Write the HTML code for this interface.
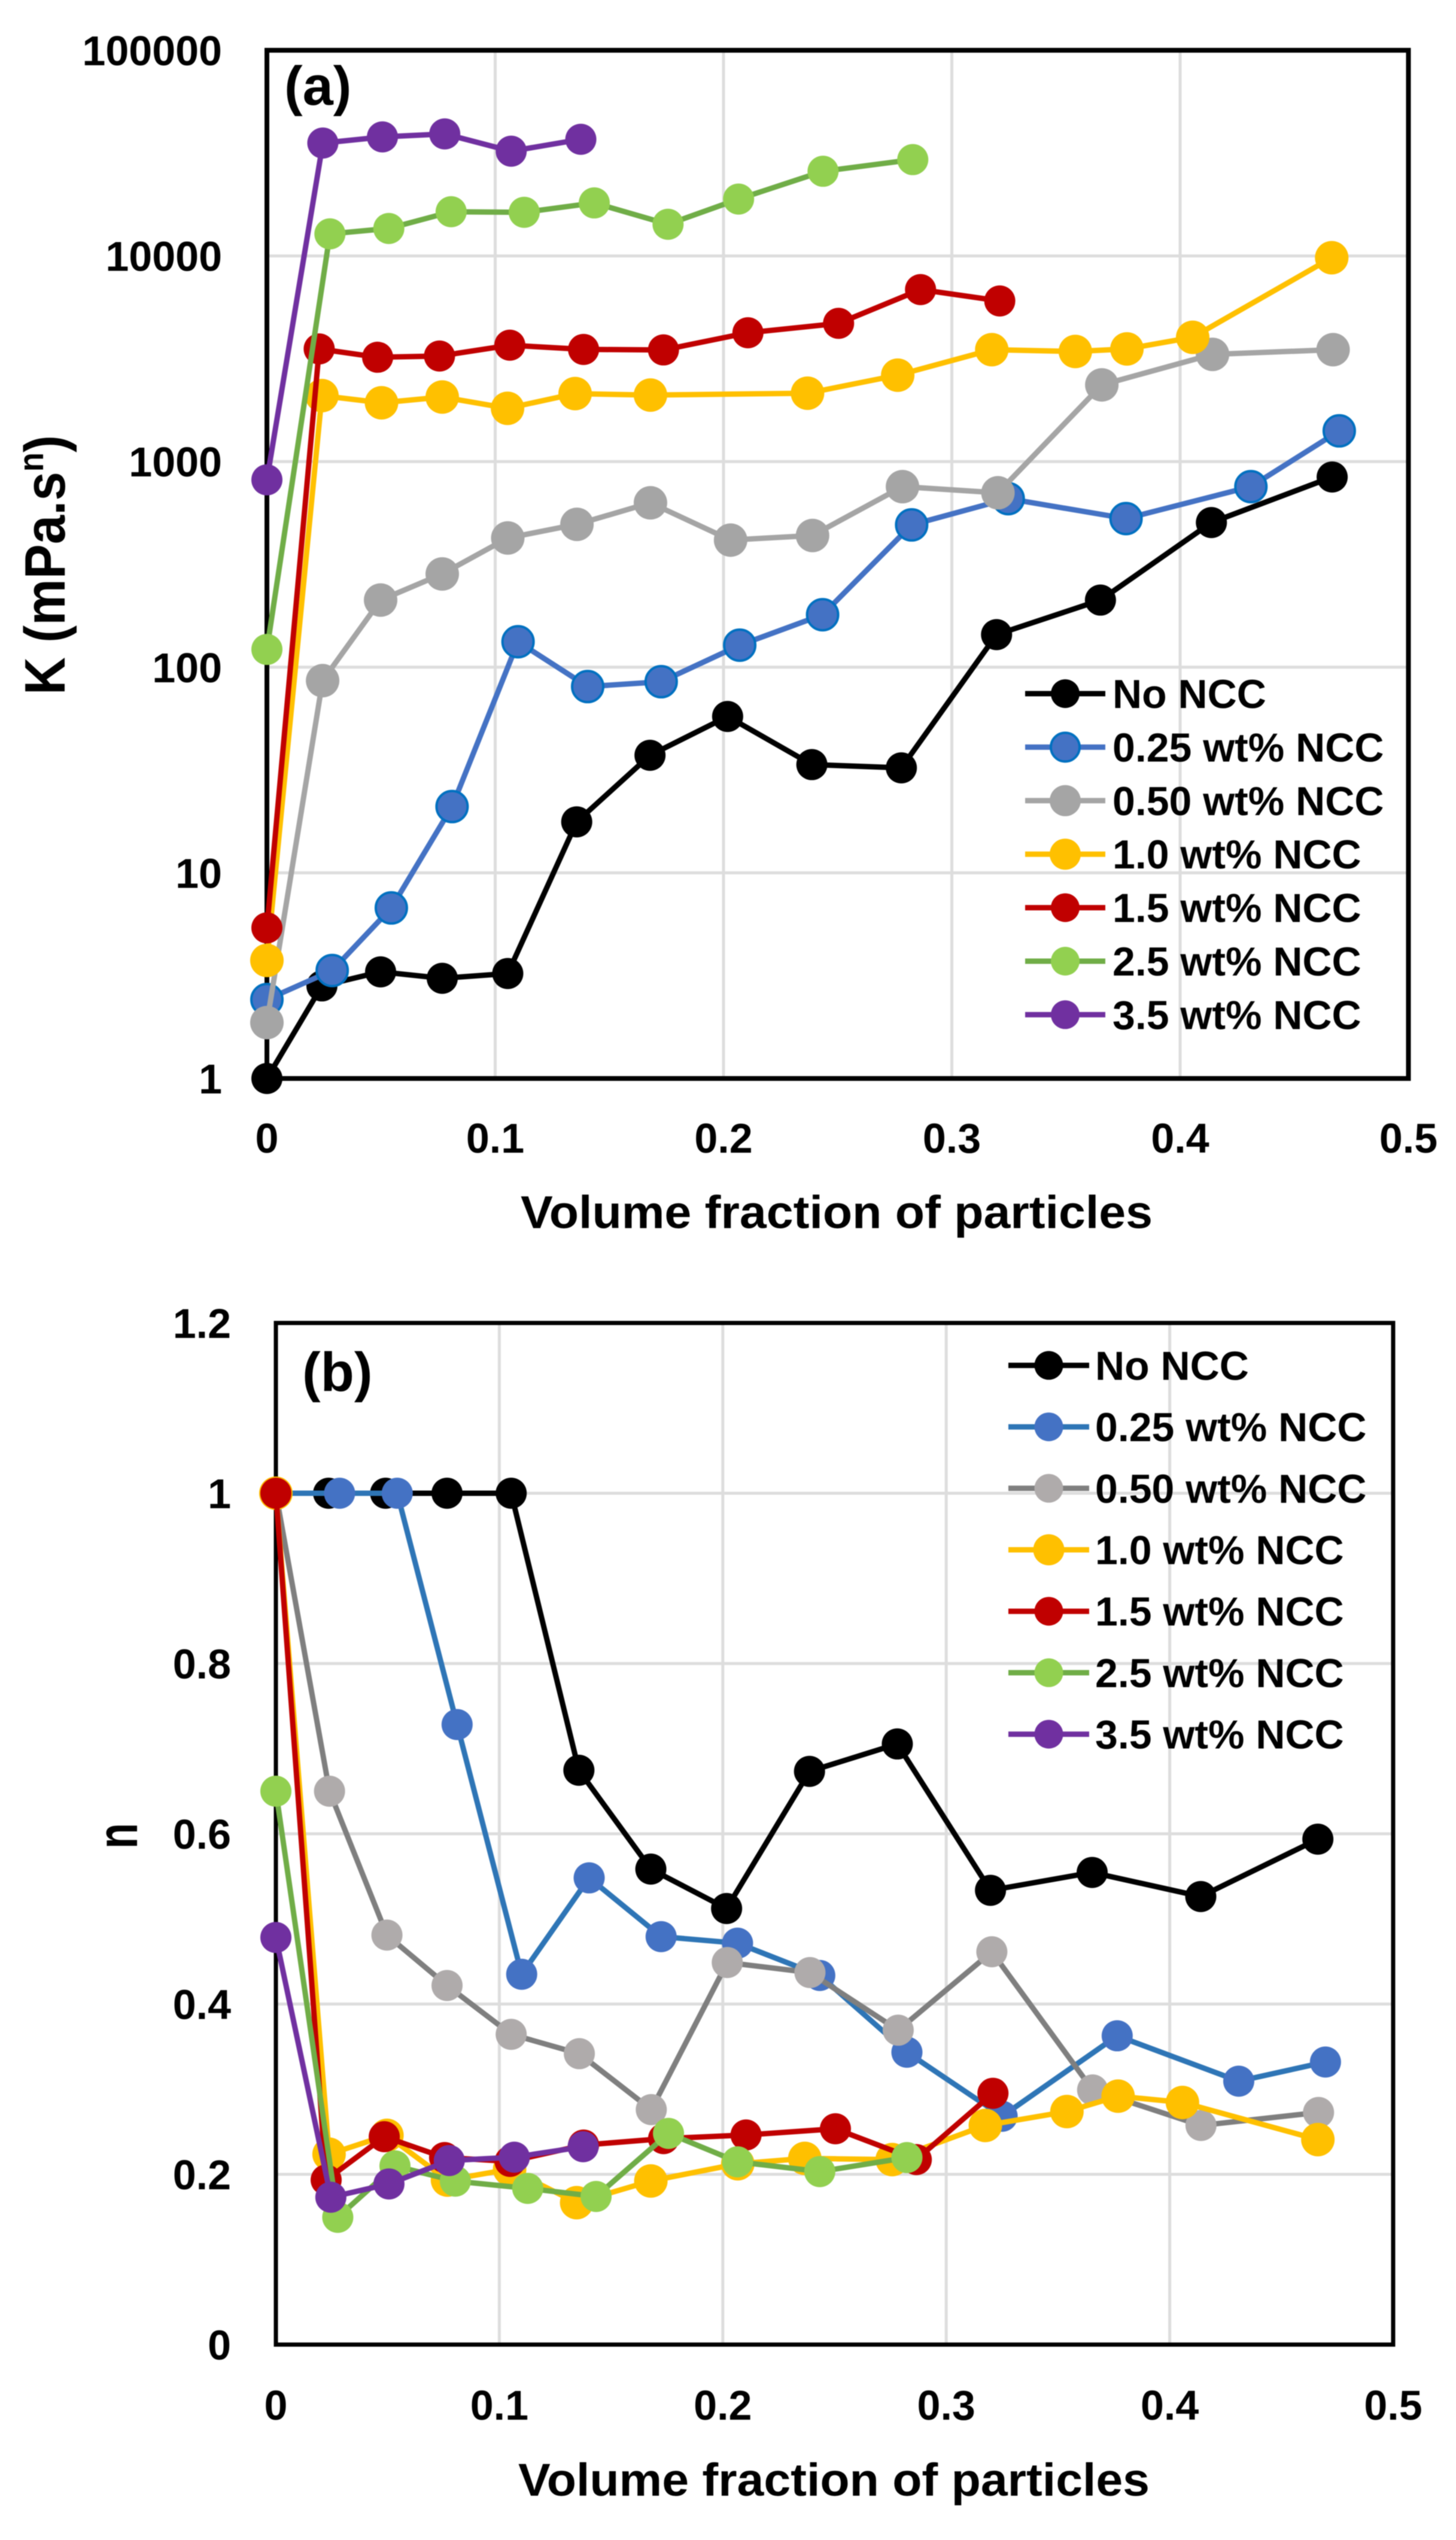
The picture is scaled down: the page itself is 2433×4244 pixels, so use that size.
<!DOCTYPE html>
<html lang="en">
<head>
<meta charset="utf-8">
<title>K and n versus volume fraction of particles</title>
<style>
html,body{margin:0;padding:0;background:#fff;}
body{width:2433px;height:4244px;overflow:hidden;}
svg{display:block;filter:blur(0.9px);}
text{font-family:"Liberation Sans",sans-serif;font-weight:700;fill:#000;}
</style>
</head>
<body>
<svg id="fig" xmlns="http://www.w3.org/2000/svg" width="2433" height="4244" viewBox="0 0 2433 4244">
  <rect x="0" y="0" width="2433" height="4244" fill="#ffffff"/>
  <g id="chartA"></g>
  <g id="chartB"></g>
  <text x="475" y="175" font-size="92">(a)</text>
  <text x="870" y="2052" font-size="77" textLength="1056" lengthAdjust="spacingAndGlyphs">Volume fraction of particles</text>
  <text transform="translate(108,1161) rotate(-90)" font-size="96" textLength="434" lengthAdjust="spacingAndGlyphs">K (mPa.s<tspan font-size="58" dy="-36">n</tspan><tspan dy="36">)</tspan></text>
  <text x="505" y="2324" font-size="92">(b)</text>
  <text x="866" y="4170" font-size="77" textLength="1055" lengthAdjust="spacingAndGlyphs">Volume fraction of particles</text>
  <text transform="translate(229,3089) rotate(-90)" font-size="96" textLength="43" lengthAdjust="spacingAndGlyphs">n</text>
</svg>
<script>
// ---------- shared data ----------
const seriesNames = ['No NCC', '0.25 wt% NCC', '0.50 wt% NCC', '1.0 wt% NCC', '1.5 wt% NCC', '2.5 wt% NCC', '3.5 wt% NCC'];
const xTicks = [0, 0.1, 0.2, 0.3, 0.4, 0.5];
const kTicks = [1, 10, 100, 1000, 10000, 100000];
const nTicks = [0, 0.2, 0.4, 0.6, 0.8, 1, 1.2];

// ---------- chart (a): K vs volume fraction ----------
const kNoNccX = [0, 0.0241, 0.0498, 0.0768, 0.1055, 0.1357, 0.1678, 0.2018, 0.2387, 0.2779, 0.3196, 0.3651, 0.4137, 0.4666];
const kNoNccY = [1, 2.82, 3.3, 3.07, 3.24, 17.7, 37.3, 57.6, 33.6, 32.4, 144, 212, 505, 841];
const k025X = [0, 0.0286, 0.0545, 0.0811, 0.11, 0.1405, 0.1727, 0.2071, 0.2434, 0.2824, 0.3247, 0.3763, 0.431, 0.4697];
const k025Y = [2.42, 3.35, 6.75, 21, 133, 80.5, 85, 128, 180, 492, 660, 528, 755, 1410];
const k050X = [0, 0.0244, 0.0498, 0.0768, 0.1055, 0.1358, 0.168, 0.2031, 0.239, 0.2784, 0.3202, 0.3657, 0.4142, 0.467];
const k050Y = [1.87, 86, 212, 284, 425, 495, 630, 415, 437, 755, 705, 2360, 3320, 3500];
const k10X = [0, 0.0241, 0.0502, 0.0768, 0.1054, 0.135, 0.168, 0.2368, 0.2763, 0.3175, 0.3541, 0.3767, 0.4055, 0.4664];
const k10Y = [3.75, 2092, 1931, 2060, 1815, 2140, 2105, 2150, 2630, 3500, 3430, 3530, 4020, 9800];
const k15X = [0, 0.0229, 0.0485, 0.0756, 0.1064, 0.1387, 0.1737, 0.2107, 0.2504, 0.2863, 0.321];
const k15Y = [5.4, 3530, 3215, 3260, 3680, 3510, 3490, 4230, 4700, 6860, 6040];
const k25X = [0, 0.0276, 0.0534, 0.0807, 0.1127, 0.1434, 0.1757, 0.2066, 0.2436, 0.2829];
const k25Y = [122, 12800, 13600, 16400, 16300, 18100, 14250, 18900, 25800, 29400];
const k35X = [0, 0.0245, 0.0506, 0.0779, 0.107, 0.1375];
const k35Y = [815, 35400, 37900, 39200, 32300, 36900];

// ---------- chart (b): n vs volume fraction ----------
const nNoNccX = [0, 0.0236, 0.0491, 0.0766, 0.1053, 0.1356, 0.1678, 0.2017, 0.2388, 0.2781, 0.3198, 0.3653, 0.4139, 0.4663];
const nNoNccY = [1, 1, 1, 1, 1, 0.6746, 0.5585, 0.5122, 0.6733, 0.7055, 0.5336, 0.5546, 0.5263, 0.5937];
const n025X = [0, 0.0285, 0.0543, 0.0811, 0.11, 0.1402, 0.1724, 0.2066, 0.2434, 0.2824, 0.325, 0.3765, 0.4309, 0.4697];
const n025Y = [1, 1, 1, 0.7283, 0.435, 0.5482, 0.4792, 0.4715, 0.4336, 0.3434, 0.2682, 0.3627, 0.3094, 0.3319];
const n050X = [0, 0.024, 0.0497, 0.0766, 0.1053, 0.1358, 0.168, 0.202, 0.239, 0.2785, 0.3204, 0.3655, 0.414, 0.4666];
const n050Y = [1, 0.65, 0.481, 0.4218, 0.3644, 0.3417, 0.276, 0.4488, 0.437, 0.3693, 0.4614, 0.2991, 0.2574, 0.2727];
const n10X = [0, 0.0238, 0.0497, 0.0768, 0.1046, 0.1346, 0.1678, 0.2067, 0.2367, 0.2758, 0.3175, 0.354, 0.3769, 0.4057, 0.4663];
const n10Y = [1, 0.2236, 0.2458, 0.1932, 0.206, 0.1667, 0.1922, 0.2124, 0.2187, 0.2173, 0.2574, 0.2737, 0.2918, 0.2844, 0.2408];
const n15X = [0, 0.0225, 0.0485, 0.0755, 0.1048, 0.1377, 0.1735, 0.2104, 0.2504, 0.2866, 0.3209];
const n15Y = [1, 0.1934, 0.2442, 0.2197, 0.2152, 0.2344, 0.2419, 0.2462, 0.2535, 0.2173, 0.2952];
const n25X = [0, 0.0277, 0.0533, 0.0803, 0.1127, 0.1433, 0.1757, 0.2066, 0.2434, 0.2824];
const n25Y = [0.65, 0.1495, 0.2099, 0.192, 0.1835, 0.174, 0.2481, 0.2147, 0.2032, 0.2197];
const n35X = [0, 0.0246, 0.0506, 0.0776, 0.1067, 0.1375];
const n35Y = [0.4782, 0.1731, 0.1887, 0.2162, 0.2201, 0.2324];

const kSeriesX = [kNoNccX, k025X, k050X, k10X, k15X, k25X, k35X];
const kSeriesY = [kNoNccY, k025Y, k050Y, k10Y, k15Y, k25Y, k35Y];
const nSeriesX = [nNoNccX, n025X, n050X, n10X, n15X, n25X, n35X];
const nSeriesY = [nNoNccY, n025Y, n050Y, n10Y, n15Y, n25Y, n35Y];

// ---------- styles (kept apart from the data) ----------
const stylesA = [
  {line:'#000000', fill:'#000000', r:26},
  {line:'#4472C4', fill:'#4472C4', r:26, ring:'#0070C0'},
  {line:'#A5A5A5', fill:'#A5A5A5', r:28},
  {line:'#FFC000', fill:'#FFC000', r:28},
  {line:'#C00000', fill:'#C00000', r:26},
  {line:'#70AD47', fill:'#92D050', r:26},
  {line:'#7030A0', fill:'#7030A0', r:26}
];
const stylesB = [
  {line:'#000000', fill:'#000000', r:26},
  {line:'#2E75B6', fill:'#4472C4', r:26},
  {line:'#7F7F7F', fill:'#AFABAB', r:26},
  {line:'#FFC000', fill:'#FFC000', r:28},
  {line:'#C00000', fill:'#C00000', r:26},
  {line:'#70AD47', fill:'#92D050', r:26},
  {line:'#7030A0', fill:'#7030A0', r:26}
];

// ---------- axis functions ----------
function xA(v){ return 446 + v * 3815; }
function yA(v){ return 1802 - Math.log10(v) * 343.6; }
function xB(v){ return 461 + v * 3734; }
function yB(v){ return 3917.5 - v * 1422.5; }

const SVGNS = 'http://www.w3.org/2000/svg';
function mk(parent, tag, attrs){
  const el = document.createElementNS(SVGNS, tag);
  for (const k in attrs) el.setAttribute(k, attrs[k]);
  parent.appendChild(el);
  return el;
}
function slug(s){ return s.toLowerCase().replace(/%/g, '').replace(/\./g, '-').replace(/\s+/g, '-'); }

function drawChart(cfg){
  const root = document.getElementById(cfg.id);
  const L = cfg.x(xTicks[0]), R = cfg.x(xTicks[xTicks.length - 1]);
  const B = cfg.y(cfg.yTicks[0]), T = cfg.y(cfg.yTicks[cfg.yTicks.length - 1]);

  cfg.yTicks.forEach(function(t, i){
    if (i > 0 && i < cfg.yTicks.length - 1) {
      const g = mk(root, 'line', {x1:L, x2:R, y1:cfg.y(t), y2:cfg.y(t), stroke:'#DDDDDD', 'stroke-width':5});
      
      
    }
    const lab = mk(root, 'text', {x:cfg.yLabelX, y:cfg.y(t) + 25, 'text-anchor':'end', 'font-size':70});
    lab.textContent = String(t);
    
    
  });
  xTicks.forEach(function(t, i){
    if (i > 0 && i < xTicks.length - 1) {
      const g = mk(root, 'line', {x1:cfg.x(t), x2:cfg.x(t), y1:T, y2:B, stroke:'#DDDDDD', 'stroke-width':5});
      
      
    }
    const lab = mk(root, 'text', {x:cfg.x(t), y:cfg.xLabelY, 'text-anchor':'middle', 'font-size':70});
    lab.textContent = String(t);
    
    
  });

  const frame = mk(root, 'rect', {x:L, y:T, width:R - L, height:B - T, fill:'none', stroke:'#000000', 'stroke-width':cfg.frameW});
  
  

  seriesNames.forEach(function(name, i){
    const st = cfg.styles[i];
    const xs = cfg.sx[i], ys = cfg.sy[i];
    const g = mk(root, 'g', {});
    
    
    const pts = xs.map(function(v, j){ return cfg.x(v).toFixed(1) + ',' + cfg.y(ys[j]).toFixed(1); }).join(' ');
    const pl = mk(g, 'polyline', {points:pts, fill:'none', stroke:st.line, 'stroke-width':9, 'stroke-linejoin':'round'});
    
    
    xs.forEach(function(v, j){
      const c = mk(g, 'circle', {cx:cfg.x(v), cy:cfg.y(ys[j]), r:st.r, fill:st.fill});
      if (st.ring) { c.setAttribute('stroke', st.ring); c.setAttribute('stroke-width', 4); }
      
      
    });

    // legend entry
    const ly = cfg.legendY0 + i * cfg.legendStep;
    const le = mk(root, 'g', {});
    
    
    const ll = mk(le, 'line', {x1:cfg.legendX1, x2:cfg.legendX2, y1:ly, y2:ly, stroke:st.line, 'stroke-width':9});
    
    
    const lc = mk(le, 'circle', {cx:(cfg.legendX1 + cfg.legendX2) / 2, cy:ly, r:st.r - 2, fill:st.fill});
    if (st.ring) { lc.setAttribute('stroke', st.ring); lc.setAttribute('stroke-width', 4); }
    
    
    const lt = mk(le, 'text', {x:cfg.legendTextX, y:ly + 24, 'font-size':68});
    lt.textContent = name;
    
    
  });
}

drawChart({id:'chartA', x:xA, y:yA, yTicks:kTicks, sx:kSeriesX, sy:kSeriesY, styles:stylesA,
  yLabelX:371, xLabelY:1926, frameW:8,
  legendY0:1159, legendStep:89.4, legendX1:1713, legendX2:1847, legendTextX:1859});
drawChart({id:'chartB', x:xB, y:yB, yTicks:nTicks, sx:nSeriesX, sy:nSeriesY, styles:stylesB,
  yLabelX:386, xLabelY:4043, frameW:7,
  legendY0:2281.4, legendStep:102.7, legendX1:1685, legendX2:1820, legendTextX:1830});
</script>
</body>
</html>
